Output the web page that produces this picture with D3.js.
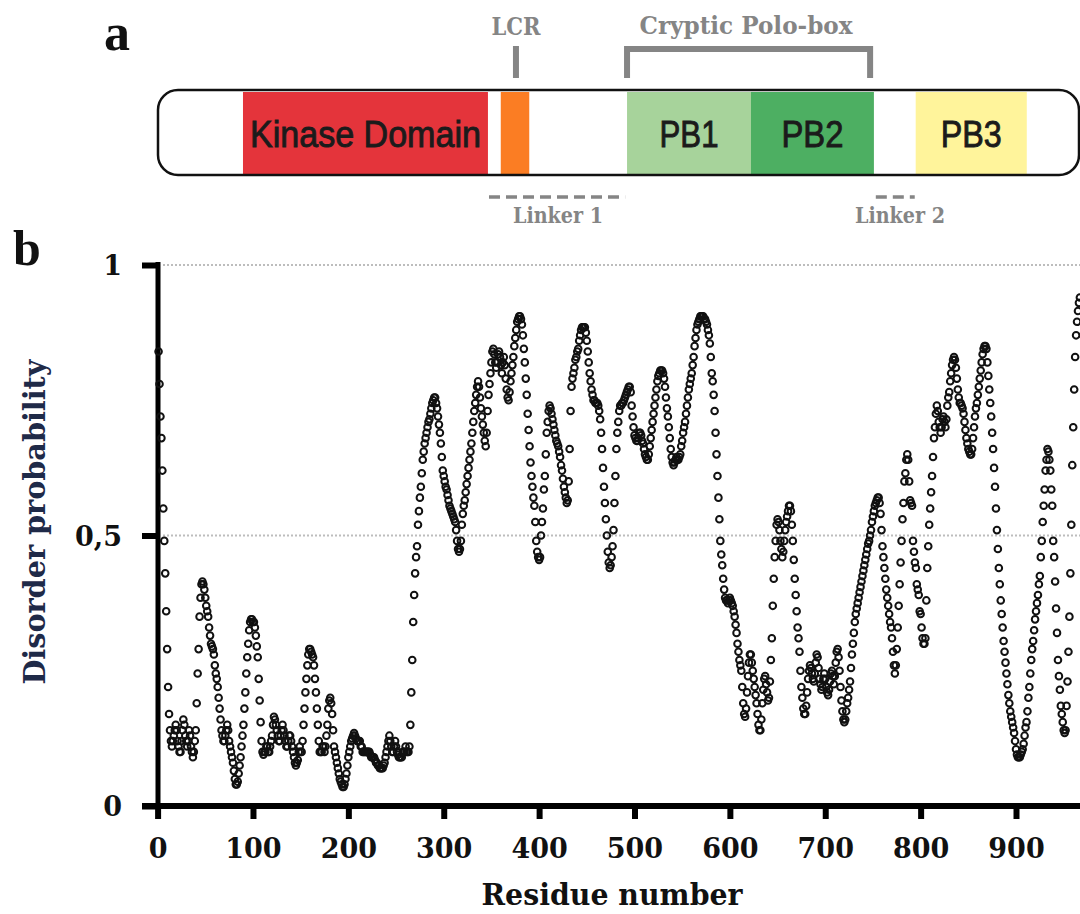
<!DOCTYPE html>
<html><head><meta charset="utf-8">
<script src="https://cdn.jsdelivr.net/npm/d3@7"></script>
<style>html,body{margin:0;padding:0;background:#fff;} svg{display:block;}</style>
</head><body>
<svg id="chart" width="1080" height="914"></svg>
<script>
// ---------- data (per-residue disorder probability, residue 1..967) ----------
const disorderA = [ // residues 1-250
0.84,0.78,0.72,0.68,0.62,0.55,0.49,0.43,0.36,0.29,
0.22,0.17,0.14,0.12,0.11,0.12,0.13,0.14,0.15,0.14,
0.12,0.11,0.10,0.10,0.12,0.14,0.16,0.15,0.13,0.12,
0.11,0.12,0.14,0.13,0.11,0.10,0.09,0.10,0.12,0.14,
0.19,0.245,0.29,0.35,0.385,0.41,0.415,0.41,0.40,0.385,
0.37,0.36,0.35,0.33,0.315,0.30,0.295,0.29,0.28,0.26,
0.245,0.235,0.22,0.20,0.18,0.16,0.14,0.13,0.12,0.12,
0.13,0.14,0.15,0.14,0.12,0.11,0.10,0.09,0.08,0.065,
0.05,0.04,0.04,0.045,0.06,0.075,0.09,0.11,0.13,0.15,
0.18,0.21,0.245,0.275,0.30,0.325,0.34,0.345,0.345,0.34,
0.34,0.33,0.315,0.295,0.275,0.235,0.195,0.155,0.12,0.10,
0.095,0.10,0.10,0.11,0.11,0.10,0.10,0.11,0.12,0.13,
0.15,0.165,0.16,0.15,0.14,0.13,0.12,0.12,0.13,0.14,
0.15,0.14,0.13,0.12,0.11,0.11,0.12,0.13,0.13,0.12,
0.11,0.10,0.09,0.08,0.075,0.08,0.085,0.10,0.11,0.10,
0.10,0.12,0.15,0.18,0.21,0.235,0.26,0.28,0.29,0.29,
0.285,0.28,0.275,0.26,0.235,0.21,0.18,0.15,0.12,0.10,
0.10,0.10,0.11,0.11,0.10,0.11,0.13,0.15,0.18,0.195,
0.20,0.19,0.17,0.14,0.11,0.10,0.09,0.08,0.07,0.06,
0.05,0.045,0.04,0.035,0.035,0.04,0.05,0.06,0.075,0.09,
0.10,0.11,0.12,0.125,0.13,0.135,0.13,0.125,0.12,0.12,
0.12,0.12,0.11,0.11,0.10,0.10,0.10,0.10,0.10,0.10,
0.10,0.10,0.095,0.09,0.09,0.09,0.09,0.085,0.08,0.08,
0.075,0.075,0.07,0.07,0.07,0.07,0.075,0.08,0.09,0.10,
0.11,0.12,0.13,0.12,0.11,0.10,0.10,0.11,0.12,0.11];
const disorderB = [ // residues 251-500
0.10,0.095,0.09,0.09,0.09,0.09,0.10,0.10,0.10,0.11,
0.10,0.10,0.10,0.11,0.15,0.21,0.27,0.34,0.39,0.43,
0.46,0.48,0.52,0.545,0.57,0.59,0.615,0.64,0.655,0.67,
0.68,0.69,0.70,0.71,0.715,0.725,0.735,0.745,0.75,0.755,
0.755,0.745,0.735,0.72,0.705,0.69,0.67,0.645,0.62,0.61,
0.60,0.59,0.585,0.575,0.565,0.555,0.55,0.545,0.54,0.535,
0.53,0.525,0.51,0.49,0.475,0.47,0.475,0.49,0.52,0.54,
0.555,0.565,0.58,0.595,0.61,0.625,0.64,0.655,0.67,0.69,
0.71,0.73,0.745,0.76,0.775,0.785,0.775,0.755,0.735,0.72,
0.705,0.69,0.675,0.665,0.69,0.73,0.76,0.78,0.80,0.82,
0.84,0.845,0.835,0.82,0.81,0.82,0.835,0.84,0.83,0.815,
0.80,0.82,0.83,0.815,0.79,0.77,0.755,0.75,0.765,0.785,
0.80,0.815,0.83,0.85,0.865,0.88,0.895,0.90,0.905,0.905,
0.90,0.89,0.87,0.845,0.82,0.79,0.76,0.725,0.695,0.665,
0.635,0.61,0.59,0.57,0.555,0.525,0.49,0.47,0.46,0.455,
0.46,0.50,0.525,0.55,0.585,0.61,0.65,0.69,0.71,0.73,
0.74,0.735,0.725,0.715,0.705,0.695,0.685,0.675,0.67,0.665,
0.655,0.645,0.63,0.62,0.605,0.59,0.58,0.57,0.56,0.565,
0.60,0.66,0.73,0.775,0.79,0.80,0.81,0.825,0.83,0.84,
0.845,0.86,0.87,0.88,0.885,0.885,0.885,0.885,0.875,0.86,
0.84,0.82,0.80,0.785,0.77,0.76,0.75,0.75,0.745,0.745,
0.745,0.74,0.73,0.715,0.69,0.66,0.625,0.59,0.56,0.53,
0.50,0.47,0.45,0.44,0.445,0.46,0.48,0.51,0.56,0.61,
0.66,0.69,0.71,0.73,0.74,0.74,0.745,0.745,0.75,0.755,
0.76,0.765,0.77,0.775,0.775,0.765,0.74,0.72,0.70,0.685];
const disorderC = [ // residues 501-750
0.68,0.675,0.675,0.68,0.69,0.69,0.685,0.675,0.67,0.66,
0.65,0.645,0.64,0.64,0.65,0.665,0.68,0.695,0.71,0.725,
0.74,0.755,0.77,0.785,0.795,0.80,0.805,0.805,0.805,0.80,
0.79,0.775,0.755,0.735,0.72,0.70,0.68,0.66,0.645,0.635,
0.63,0.635,0.64,0.645,0.64,0.64,0.645,0.65,0.665,0.675,
0.69,0.70,0.71,0.725,0.74,0.755,0.77,0.78,0.79,0.80,
0.815,0.83,0.85,0.865,0.88,0.89,0.895,0.90,0.905,0.905,
0.905,0.905,0.90,0.90,0.895,0.89,0.88,0.87,0.855,0.83,
0.80,0.785,0.76,0.73,0.69,0.65,0.61,0.57,0.53,0.49,
0.465,0.445,0.42,0.40,0.385,0.38,0.38,0.375,0.38,0.385,
0.38,0.375,0.37,0.36,0.35,0.335,0.32,0.30,0.285,0.27,
0.26,0.25,0.22,0.19,0.17,0.165,0.18,0.21,0.24,0.265,
0.28,0.28,0.265,0.25,0.235,0.22,0.205,0.19,0.17,0.15,
0.14,0.14,0.16,0.19,0.215,0.235,0.24,0.225,0.21,0.195,
0.20,0.23,0.27,0.31,0.37,0.42,0.46,0.49,0.52,0.53,
0.525,0.51,0.49,0.475,0.46,0.47,0.49,0.51,0.525,0.535,
0.545,0.555,0.555,0.545,0.52,0.49,0.455,0.42,0.39,0.36,
0.33,0.31,0.285,0.25,0.22,0.20,0.18,0.17,0.17,0.185,
0.21,0.235,0.25,0.26,0.255,0.245,0.235,0.23,0.245,0.265,
0.28,0.275,0.255,0.235,0.225,0.215,0.22,0.235,0.245,0.235,
0.22,0.21,0.205,0.215,0.23,0.245,0.25,0.24,0.225,0.24,
0.265,0.285,0.29,0.275,0.25,0.22,0.195,0.175,0.16,0.155,
0.16,0.175,0.19,0.20,0.215,0.23,0.255,0.28,0.30,0.32,
0.34,0.355,0.365,0.375,0.385,0.395,0.405,0.415,0.425,0.435,
0.445,0.455,0.465,0.475,0.485,0.49,0.50,0.51,0.525,0.535];
const disorderD = [ // residues 751-967
0.545,0.555,0.56,0.565,0.57,0.57,0.56,0.54,0.51,0.48,
0.46,0.44,0.42,0.40,0.385,0.37,0.355,0.34,0.33,0.31,
0.285,0.26,0.245,0.26,0.29,0.33,0.37,0.41,0.45,0.49,
0.53,0.56,0.60,0.615,0.64,0.65,0.64,0.60,0.565,0.56,
0.555,0.49,0.47,0.45,0.44,0.41,0.40,0.39,0.36,0.355,
0.33,0.31,0.30,0.30,0.31,0.38,0.44,0.48,0.52,0.55,
0.58,0.61,0.645,0.68,0.70,0.725,0.74,0.73,0.71,0.70,
0.69,0.70,0.715,0.72,0.71,0.70,0.715,0.74,0.755,0.765,
0.785,0.80,0.815,0.825,0.83,0.825,0.81,0.79,0.77,0.755,
0.745,0.745,0.74,0.735,0.725,0.71,0.695,0.68,0.67,0.66,
0.655,0.65,0.65,0.66,0.68,0.70,0.72,0.735,0.745,0.76,
0.775,0.79,0.805,0.82,0.835,0.845,0.85,0.85,0.845,0.82,
0.795,0.77,0.745,0.72,0.69,0.66,0.625,0.59,0.55,0.51,
0.475,0.44,0.41,0.38,0.355,0.33,0.305,0.285,0.265,0.245,
0.225,0.205,0.19,0.175,0.165,0.155,0.145,0.135,0.12,0.105,
0.095,0.09,0.09,0.09,0.095,0.10,0.105,0.115,0.13,0.145,
0.155,0.175,0.20,0.22,0.245,0.27,0.29,0.305,0.325,0.345,
0.36,0.375,0.39,0.41,0.425,0.46,0.49,0.525,0.555,0.585,
0.62,0.64,0.66,0.655,0.64,0.62,0.585,0.555,0.49,0.46,
0.415,0.365,0.32,0.27,0.24,0.215,0.185,0.17,0.155,0.14,
0.135,0.14,0.185,0.23,0.285,0.35,0.43,0.52,0.63,0.70,
0.77,0.83,0.87,0.895,0.915,0.93,0.94];

const xTicks = [0,100,200,300,400,500,600,700,800,900];
const yTicks = [0, 0.5, 1];
const yTickLabels = ["0", "0,5", "1"];
const gridValues = [0.5, 1];

// domain diagram (schematic residue coordinates along the bar)
const domainNames  = ["Kinase Domain", "", "PB1", "PB2", "PB3"];
const domainStart  = [89.5, 361, 494, 624.5, 798];
const domainEnd    = [347.5, 391, 624.5, 754, 915];
const domainColors = ["#e4343b", "#fb7d23", "#a7d39b", "#4daf62", "#fff49b"];
const lcrPos = 377;
const crypticRange = [494, 750];
const linkerNames = ["Linker 1", "Linker 2"];
const linkerRanges = [[348.6, 492], [756, 797]];
const proteinLength = 970;

// ---------- drawing ----------
const svg = d3.select("#chart");
const values = disorderA.concat(disorderB, disorderC, disorderD);
const data = values.map((v, i) => ({res: i + 1, v}));

const gray = "#858585";
const serif = "'DejaVu Serif', serif";

// Panel a
svg.append("text").attr("x", 104).attr("y", 50)
  .style("font-family", "'Liberation Serif', serif").style("font-weight", "bold")
  .style("font-size", "52px").attr("fill", "#111").text("a");

const sx = d3.scaleLinear().domain([0, proteinLength]).range([158, 1079]);
const barTop = 90, barBot = 175;

svg.append("rect").attr("x", sx(0)).attr("y", barTop)
  .attr("width", sx(proteinLength) - sx(0)).attr("height", barBot - barTop)
  .attr("rx", 20).attr("fill", "#fff");

const dg = svg.append("g");
domainNames.forEach((name, i) => {
  dg.append("rect").attr("x", sx(domainStart[i])).attr("y", barTop + 2)
    .attr("width", sx(domainEnd[i]) - sx(domainStart[i])).attr("height", barBot - barTop - 3)
    .attr("fill", domainColors[i]);
});
const domainTextWidth = [231, 0, 59, 62, 61];
domainNames.forEach((name, i) => {
  if (!name) return;
  dg.append("text").attr("x", (sx(domainStart[i]) + sx(domainEnd[i])) / 2).attr("y", 147)
    .attr("text-anchor", "middle")
    .attr("textLength", domainTextWidth[i]).attr("lengthAdjust", "spacingAndGlyphs")
    .style("font-family", "'Liberation Sans', Arial, sans-serif")
    .style("font-size", "37px").attr("fill", "#1b1b1b")
    .attr("stroke", "#1b1b1b").attr("stroke-width", 0.9).text(name);
});

svg.append("rect").attr("x", sx(0)).attr("y", barTop)
  .attr("width", sx(proteinLength) - sx(0)).attr("height", barBot - barTop)
  .attr("rx", 20).attr("fill", "none").attr("stroke", "#111").attr("stroke-width", 2.5);

// LCR marker
svg.append("line").attr("x1", sx(lcrPos)).attr("x2", sx(lcrPos)).attr("y1", 46).attr("y2", 78)
  .attr("stroke", gray).attr("stroke-width", 6);
svg.append("text").attr("x", sx(lcrPos)).attr("y", 35).attr("text-anchor", "middle")
  .attr("textLength", 49).attr("lengthAdjust", "spacingAndGlyphs")
  .style("font-family", serif).style("font-weight", "bold").style("font-size", "24px")
  .attr("fill", gray).text("LCR");

// Cryptic polo-box bracket
svg.append("path")
  .attr("d", `M${sx(crypticRange[0])},78 V49 H${sx(crypticRange[1])} V78`)
  .attr("fill", "none").attr("stroke", gray).attr("stroke-width", 6);
svg.append("text").attr("x", 746).attr("y", 34).attr("text-anchor", "middle")
  .attr("textLength", 213).attr("lengthAdjust", "spacingAndGlyphs")
  .style("font-family", serif).style("font-weight", "bold").style("font-size", "24px")
  .attr("fill", gray).text("Cryptic Polo-box");

// Linkers
const linkerLabelX = [558, 900];
linkerRanges.forEach((r, i) => {
  svg.append("line").attr("x1", sx(r[0])).attr("x2", sx(r[1])).attr("y1", 197).attr("y2", 197)
    .attr("stroke", gray).attr("stroke-width", 3.5).attr("stroke-dasharray", "11,6");
  svg.append("text").attr("x", linkerLabelX[i]).attr("y", 223).attr("text-anchor", "middle")
    .attr("textLength", 90).attr("lengthAdjust", "spacingAndGlyphs")
    .style("font-family", serif).style("font-weight", "bold").style("font-size", "23px")
    .attr("fill", gray).text(linkerNames[i]);
});

// Panel b
svg.append("text").attr("x", 13).attr("y", 265)
  .style("font-family", "'Liberation Serif', serif").style("font-weight", "bold")
  .style("font-size", "50px").attr("fill", "#111").text("b");

const x = d3.scaleLinear().domain([0, 900]).range([157.6, 1016]);
const y = d3.scaleLinear().domain([0, 1]).range([806, 265]);

// gridlines
svg.append("g").selectAll("line").data(gridValues).join("line")
  .attr("x1", 163).attr("x2", 1080).attr("y1", d => y(d)).attr("y2", d => y(d))
  .attr("stroke", "#bdbdbd").attr("stroke-width", 2).attr("stroke-dasharray", "2,2");

// y axis
const yAxis = d3.axisLeft(y).tickValues(yTicks).tickSize(16).tickPadding(20)
  .tickFormat((d, i) => yTickLabels[i]);
const gy = svg.append("g").attr("transform", "translate(158,0)").call(yAxis);
gy.select(".domain").attr("stroke", "#000").attr("stroke-width", 5)
  .attr("d", `M0,${y(1) - 3}V${y(0)}`);
gy.selectAll(".tick line").attr("stroke", "#000").attr("stroke-width", 6);
gy.selectAll(".tick text").attr("fill", "#111").attr("dy", "0.36em")
  .style("font-family", serif).style("font-weight", "bold").style("font-size", "27px");

// x axis
const xAxis = d3.axisBottom(x).tickValues(xTicks).tickSize(13).tickPadding(20)
  .tickFormat(d3.format("d"));
const gx = svg.append("g").attr("transform", "translate(0,806)").call(xAxis);
gx.select(".domain").attr("stroke", "#000").attr("stroke-width", 6)
  .attr("d", "M142,0H1080");
gx.selectAll(".tick line").attr("stroke", "#000").attr("stroke-width", 6);
gx.selectAll(".tick text").attr("fill", "#111")
  .style("font-family", serif).style("font-weight", "bold").style("font-size", "27px");

// axis titles
svg.append("text").attr("x", 612).attr("y", 905).attr("text-anchor", "middle")
  .attr("textLength", 261).attr("lengthAdjust", "spacingAndGlyphs")
  .style("font-family", serif).style("font-weight", "bold").style("font-size", "30px")
  .attr("fill", "#111").text("Residue number");
svg.append("text").attr("transform", "translate(45,522) rotate(-90)").attr("text-anchor", "middle")
  .attr("textLength", 325).attr("lengthAdjust", "spacingAndGlyphs")
  .style("font-family", serif).style("font-weight", "bold").style("font-size", "30px")
  .attr("fill", "#1f2a48").text("Disorder probability");

// points
svg.append("g").selectAll("circle").data(data).join("circle")
  .attr("cx", d => x(d.res)).attr("cy", d => y(d.v)).attr("r", 3.3)
  .attr("fill", "none").attr("stroke", "#111").attr("stroke-width", 2);
</script>
</body></html>
